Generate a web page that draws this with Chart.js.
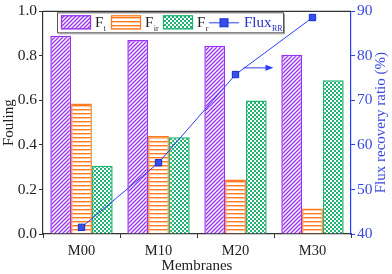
<!DOCTYPE html>
<html>
<head>
<meta charset="utf-8">
<script src="https://cdn.jsdelivr.net/npm/chart.js@4.4.0/dist/chart.umd.min.js"></script>
<style>
  html, body { margin: 0; padding: 0; background: #fff; }
  #wrap { width: 392px; height: 274px; }
</style>
</head>
<body>
<div id="wrap"><canvas id="foulingChart" width="392" height="274"></canvas></div>
<script>
// Data
const membranes = ['M00', 'M10', 'M20', 'M30'];
const fTotal = [0.890, 0.871, 0.845, 0.805];
const fIrrev = [0.586, 0.440, 0.245, 0.115];
const fRev = [0.307, 0.435, 0.600, 0.690];
const fluxRR = [41.5, 56.0, 75.8, 88.6];
const legendBase = ['F', 'F', 'F', 'Flux'];
const legendSub = ['t', 'ir', 'r', 'RR'];

// Colours
const PURPLE = '#9a30f5';
const ORANGE = '#ff7a1f';
const GREEN = '#1fb372';
const BLUE = '#2b3cf5';
const AXIS = '#333333';
const SERIF = '"Liberation Serif", "DejaVu Serif", serif';

const canvas = document.getElementById('foulingChart');
const ctx = canvas.getContext('2d');

// Fill patterns
function makeTile(draw) {
    const c = document.createElement('canvas');
    c.width = 4; c.height = 4;
    const g = c.getContext('2d');
    g.fillStyle = '#fff';
    g.fillRect(0, 0, 4, 4);
    draw(g);
    return ctx.createPattern(c, 'repeat');
}
const diagPattern = makeTile(g => {
    g.strokeStyle = PURPLE; g.lineWidth = 1.3;
    g.beginPath();
    g.moveTo(-1, 5); g.lineTo(5, -1);
    g.moveTo(-1, 1); g.lineTo(1, -1);
    g.moveTo(3, 5); g.lineTo(5, 3);
    g.stroke();
});
const hLinePattern = makeTile(g => {
    g.fillStyle = ORANGE;
    g.fillRect(0, 1, 4, 1.4);
});
const checkPattern = makeTile(g => {
    g.fillStyle = GREEN;
    g.fillRect(0, 0, 2, 2);
    g.fillRect(2, 2, 2, 2);
});

// Legend, top border, arrow and right title
const extrasPlugin = {
    id: 'extras',
    afterDraw(chart) {
        const c = chart.ctx;
        const area = chart.chartArea;
        c.save();
        // top frame line
        c.strokeStyle = AXIS; c.lineWidth = 1.2;
        c.beginPath(); c.moveTo(area.left, area.top); c.lineTo(area.right, area.top); c.stroke();

        // legend box
        const bx = area.left + 14, by = area.top + 1;
        c.fillStyle = '#fff';
        c.fillRect(bx, by, 226, 20);
        c.strokeStyle = '#555'; c.lineWidth = 1;
        c.strokeRect(bx + 0.5, by + 0.5, 226, 20);
        c.strokeStyle = '#999';
        c.beginPath(); c.moveTo(bx + 1.5, by + 21.5); c.lineTo(bx + 227.5, by + 21.5); c.lineTo(bx + 227.5, by + 1.5); c.stroke();

        const swatchX = [bx + 4, bx + 54, bx + 106];
        const fills = [diagPattern, hLinePattern, checkPattern];
        const borders = [PURPLE, ORANGE, GREEN];
        const textX = [bx + 38, bx + 88, bx + 140, bx + 187];
        for (let i = 0; i < 3; i++) {
            c.fillStyle = fills[i];
            c.fillRect(swatchX[i], by + 3, 30, 14);
            c.strokeStyle = borders[i]; c.lineWidth = 1.3;
            c.strokeRect(swatchX[i] + 0.5, by + 3.5, 29, 13);
        }
        // line sample
        c.strokeStyle = BLUE; c.lineWidth = 1;
        c.beginPath(); c.moveTo(bx + 152, by + 10.5); c.lineTo(bx + 182, by + 10.5); c.stroke();
        c.fillStyle = '#3550e8'; c.strokeStyle = '#1a2ad0';
        c.fillRect(bx + 163, by + 6.5, 8, 8);
        c.strokeRect(bx + 163, by + 6.5, 8, 8);

        c.textBaseline = 'alphabetic';
        c.textAlign = 'left';
        for (let i = 0; i < 4; i++) {
            c.fillStyle = i === 3 ? '#2430c8' : '#222';
            c.font = '15px ' + SERIF;
            c.fillText(legendBase[i], textX[i], by + 15);
            const w = c.measureText(legendBase[i]).width;
            c.font = '8px ' + SERIF;
            c.fillText(legendSub[i], textX[i] + w + 0.5, by + 19);
        }

        // arrow pointing to right axis
        const xs = chart.scales.x, ys = chart.scales.y1;
        const ax = xs.getPixelForValue(2) + 8;
        const ay = ys.getPixelForValue(77.3);
        c.strokeStyle = BLUE; c.fillStyle = BLUE; c.lineWidth = 1;
        c.beginPath(); c.moveTo(ax, ay); c.lineTo(ax + 24, ay); c.stroke();
        c.beginPath(); c.moveTo(ax + 30, ay); c.lineTo(ax + 22, ay - 3); c.lineTo(ax + 22, ay + 3); c.closePath(); c.fill();

        // right axis title, reading bottom to top
        c.translate(381, (area.top + area.bottom) / 2);
        c.rotate(-Math.PI / 2);
        c.fillStyle = '#3a48e0';
        c.font = '15px ' + SERIF;
        c.textAlign = 'center';
        c.textBaseline = 'middle';
        c.fillText('Flux recovery ratio (%)', 0, 0);
        c.restore();
    }
};

new Chart(ctx, {
    data: {
        labels: membranes,
        datasets: [
            {
                type: 'line', label: 'FluxRR', data: fluxRR, yAxisID: 'y1', order: 0,
                borderColor: BLUE, borderWidth: 1, pointStyle: 'rect', pointRadius: 4.5,
                pointBackgroundColor: '#3550e8', pointBorderColor: '#1a2ad0', pointBorderWidth: 1
            },
            { type: 'bar', label: 'Ft', data: fTotal, yAxisID: 'y', order: 1, backgroundColor: diagPattern, borderColor: PURPLE, borderWidth: 1.5 },
            { type: 'bar', label: 'Fir', data: fIrrev, yAxisID: 'y', order: 1, backgroundColor: hLinePattern, borderColor: ORANGE, borderWidth: 1.5 },
            { type: 'bar', label: 'Fr', data: fRev, yAxisID: 'y', order: 1, backgroundColor: checkPattern, borderColor: GREEN, borderWidth: 1.5 }
        ]
    },
    options: {
        responsive: false,
        devicePixelRatio: 1,
        animation: false,
        layout: { padding: { top: 7, left: 0, right: 0, bottom: 0 } },
        datasets: { bar: { categoryPercentage: 0.81, barPercentage: 1 } },
        plugins: { legend: { display: false }, tooltip: { enabled: false } },
        scales: {
            x: {
                grid: { display: true, drawOnChartArea: false, drawTicks: true, tickLength: 4, color: AXIS },
                border: { color: AXIS, width: 1.2 },
                ticks: { font: { family: SERIF, size: 14.5 }, color: '#222', padding: 4 },
                title: { display: true, text: 'Membranes', font: { family: SERIF, size: 15, lineHeight: 1 }, color: '#222', padding: { top: 0, bottom: 0 } },
                afterFit: s => { s.height = 40; }
            },
            y: {
                position: 'left', min: 0, max: 1,
                grid: { display: true, drawOnChartArea: false, tickLength: 4, color: AXIS },
                border: { color: AXIS, width: 1.2 },
                ticks: { stepSize: 0.2, font: { family: SERIF, size: 15.5 }, color: '#222', padding: 2, callback: v => v.toFixed(1) },
                title: { display: true, text: 'Fouling', font: { family: SERIF, size: 15 }, color: '#222', padding: { top: 0, bottom: 0 } },
                afterFit: s => { s.width = 43; }
            },
            y1: {
                position: 'right', min: 40, max: 90,
                grid: { display: true, drawOnChartArea: false, tickLength: 4, color: BLUE },
                border: { color: BLUE, width: 1.2 },
                ticks: { stepSize: 10, font: { family: SERIF, size: 15.5 }, color: '#3a48e0', padding: 2 },
                afterFit: s => { s.width = 41; }
            }
        }
    },
    plugins: [extrasPlugin]
});
</script>
</body>
</html>
